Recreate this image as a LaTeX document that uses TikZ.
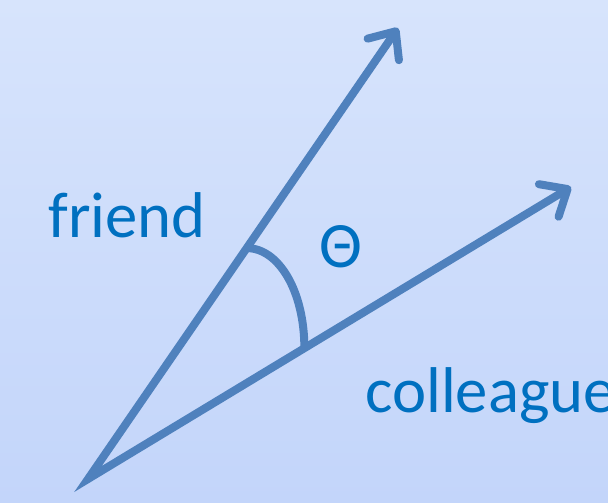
\documentclass[tikz,border=0pt]{standalone}
\usepackage{fontspec}
\setmainfont{Carlito}
\usetikzlibrary{arrows.meta, calc}
\definecolor{vecblue}{HTML}{4F81BD}
\definecolor{labelblue}{HTML}{0070C0}
\definecolor{bgtop}{HTML}{D7E4FC}
\definecolor{bgbottom}{HTML}{C3D5FA}
\begin{document}
\begin{tikzpicture}[x=0.025cm, y=-0.025cm,
    >={Straight Barb[length=0.55cm, width=0.95cm, round]},
    vec/.style={draw=vecblue, line width=0.2cm, line join=miter},
    lbl/.style={text=labelblue, inner sep=0, anchor=base west, font=\fontsize{46}{55}\selectfont}]
    \useasboundingbox (0,0) rectangle (608,503);
    \shade[top color=bgtop, bottom color=bgbottom] (0,0) rectangle (608,503);

    \coordinate (o) at (88,479);
    \coordinate (friendtip) at (398,28);
    \coordinate (colltip) at (571,187);

    % the two vectors
    \draw[vec, <->] (friendtip) -- (o) -- (colltip);

    % angle between them
    \coordinate (f) at ($(o)!0.512!(friendtip)$);
    \coordinate (c) at ($(o)!0.448!(colltip)$);
    \draw[vec, line cap=butt] (f) .. controls +(32,0) and +(0,-57) .. (c);

    \node[lbl] (friend) at (48,238) {friend};
    \node[lbl] (theta) at (319,268) {Θ};
    \node[lbl] (colleague) at (365,413) {colleague};
\end{tikzpicture}
\end{document}
